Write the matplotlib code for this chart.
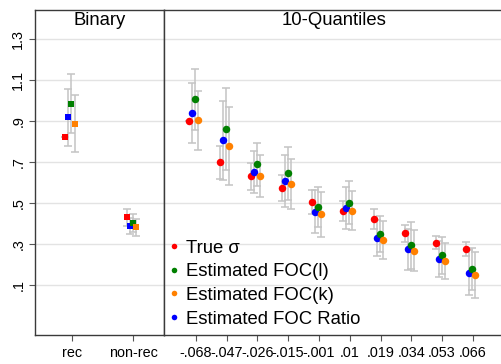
import matplotlib
matplotlib.use("Agg")
import matplotlib.pyplot as plt
from matplotlib.lines import Line2D

plt.rcParams["font.family"] = ["Liberation Sans", "DejaVu Sans"]

# ------------------------------------------------------------
# Estimates: binary split (rec / non-rec)
# ------------------------------------------------------------
bin_labels = ["rec", "non-rec"]
bin_true = [0.823, 0.431]
bin_true_ci = [0.0, 0.042]
bin_focl = [0.986, 0.405]
bin_focl_ci = [0.146, 0.044]
bin_fock = [0.887, 0.381]
bin_fock_ci = [0.139, 0.040]
bin_ratio = [0.919, 0.389]
bin_ratio_ci = [0.140, 0.040]

# ------------------------------------------------------------
# Estimates: 10 quantiles
# ------------------------------------------------------------
q_labels = ["-.068", "-.047", "-.026", "-.015", "-.001", ".01", ".019", ".034", ".053", ".066"]
q_true = [0.900, 0.700, 0.630, 0.573, 0.507, 0.462, 0.422, 0.352, 0.307, 0.275]
q_true_ci = [0.0, 0.080, 0.065, 0.064, 0.058, 0.049, 0.049, 0.043, 0.032, 0.035]
q_focl = [1.006, 0.862, 0.689, 0.645, 0.481, 0.503, 0.349, 0.294, 0.245, 0.180]
q_focl_ci = [0.150, 0.200, 0.103, 0.131, 0.098, 0.103, 0.089, 0.116, 0.090, 0.103]
q_fock = [0.905, 0.777, 0.633, 0.593, 0.445, 0.462, 0.318, 0.268, 0.217, 0.150]
q_fock_ci = [0.144, 0.190, 0.102, 0.121, 0.109, 0.095, 0.093, 0.100, 0.089, 0.111]
q_ratio = [0.939, 0.806, 0.651, 0.609, 0.459, 0.477, 0.330, 0.274, 0.226, 0.161]
q_ratio_ci = [0.147, 0.191, 0.104, 0.126, 0.106, 0.101, 0.088, 0.100, 0.087, 0.109]

yticks = [1.3, 1.1, 0.9, 0.7, 0.5, 0.3, 0.1]
ytick_labels = ["1.3", "1.1", ".9", ".7", ".5", ".3", ".1"]

RED, GREEN, ORANGE, BLUE = "#ff0000", "#008000", "#ff8000", "#0000ff"
BAR = "#c4c4c4"
GRID = "#e3e3e3"
FRAME = "#3a3a3a"

fig = plt.figure(figsize=(5.02, 3.64), dpi=100)
W, H = 502.0, 364.0
axL = fig.add_axes([35 / W, 29 / H, 129 / W, 325 / H])
axR = fig.add_axes([164 / W, 29 / H, 339.7 / W, 325 / H], sharey=axL)


def draw_panel(ax, n, series, offsets, marker, ms):
    xs = list(range(1, n + 1))
    # error bars first, markers on top
    for (vals, ci, color), dx in zip(series, offsets):
        px = [x + dx for x in xs]
        ax.errorbar(px, vals, yerr=ci, fmt="none", ecolor=BAR, elinewidth=1.1,
                    capsize=2.6, capthick=1.1, zorder=2)
    for (vals, ci, color), dx in zip(series, offsets):
        px = [x + dx for x in xs]
        ax.plot(px, vals, linestyle="none", marker=marker, ms=ms,
                color=color, markeredgewidth=0, zorder=3)


# draw order left to right: true, ratio, FOC(l), FOC(k)
bin_series = [(bin_true, bin_true_ci, RED), (bin_ratio, bin_ratio_ci, BLUE),
              (bin_focl, bin_focl_ci, GREEN), (bin_fock, bin_fock_ci, ORANGE)]
q_series = [(q_true, q_true_ci, RED), (q_ratio, q_ratio_ci, BLUE),
            (q_focl, q_focl_ci, GREEN), (q_fock, q_fock_ci, ORANGE)]

draw_panel(axL, 2, bin_series, [-0.108, -0.059, -0.010, 0.041], "s", 4.6)
draw_panel(axR, 10, q_series, [-0.214, -0.117, -0.019, 0.081], "o", 5.4)

axL.set_xlim(0.396, 2.5)
axR.set_xlim(-0.03, 11.0)
axL.set_ylim(-0.144, 1.443)

for ax in (axL, axR):
    ax.set_yticks(yticks)
    for y in yticks:
        ax.axhline(y, color=GRID, lw=1.0, zorder=1)
    for s in ax.spines.values():
        s.set_color(FRAME)
        s.set_linewidth(1.0)
    ax.tick_params(axis="x", direction="out", length=4, width=0.8, color="#555555",
                   labelsize=10.4, pad=4)
    ax.tick_params(axis="y", direction="out", length=4, width=0.8, color="#555555",
                   labelsize=10.4, pad=3)

axL.set_xticks([1, 2])
axL.set_xticklabels(bin_labels)
axL.set_yticklabels(ytick_labels, rotation=90, va="center")

axR.set_xticks(range(1, 11))
axR.set_xticklabels(q_labels)
axR.tick_params(axis="y", left=False, labelleft=False)

axL.text(0.5, 0.969, "Binary", transform=axL.transAxes, ha="center", va="center",
         fontsize=13.3)
axR.text(0.5, 0.969, "10-Quantiles", transform=axR.transAxes, ha="center", va="center",
         fontsize=13.3)

handles = [Line2D([], [], linestyle="none", marker="o", ms=4, color=c, markeredgewidth=0)
           for c in (RED, GREEN, ORANGE, BLUE)]
labels = ["True σ", "Estimated FOC(l)", "Estimated FOC(k)", "Estimated FOC Ratio"]
leg = axR.legend(handles, labels, loc="lower left", bbox_to_anchor=(0.0, 0.0),
                 frameon=False, fontsize=13.3, handlelength=0.3, handletextpad=0.5,
                 labelspacing=0.36, borderpad=0.3, borderaxespad=0.1)
leg.set_zorder(5)

fig.savefig("out.png", dpi=100)
